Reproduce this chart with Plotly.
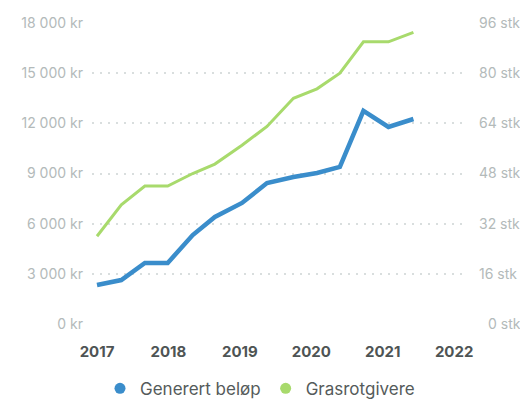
import plotly.graph_objects as go

# x positions (decimal years)
periods = [2017.00, 2017.34, 2017.67, 2017.99, 2018.34, 2018.65, 2019.03,
           2019.38, 2019.75, 2020.08, 2020.40, 2020.73, 2021.08, 2021.43]
generert_belop = [2330, 2630, 3650, 3650, 5320, 6400, 7240,
                  8430, 8790, 9030, 9390, 12740, 11780, 12260]
grasrotgivere = [28, 38, 44, 44, 48, 51, 57, 63, 72, 75, 80, 90, 90, 93]

year_ticks = [2017, 2018, 2019, 2020, 2021, 2022]
kr_ticks = [0, 3000, 6000, 9000, 12000, 15000, 18000]
kr_labels = ["0 kr", "3 000 kr", "6 000 kr", "9 000 kr", "12 000 kr", "15 000 kr", "18 000 kr"]
stk_ticks = [0, 16, 32, 48, 64, 80, 96]
stk_labels = ["\u20070 stk", "16 stk", "32 stk", "48 stk", "64 stk", "80 stk", "96 stk"]

BLUE = "#3A8DCB"
GREEN = "#A8DA6C"
FONT = "Inter"

fig = go.Figure()
fig.add_trace(go.Scatter(x=periods, y=grasrotgivere, yaxis="y2", mode="lines",
                         line=dict(color=GREEN, width=3), showlegend=False))
fig.add_trace(go.Scatter(x=periods, y=generert_belop, mode="lines",
                         line=dict(color=BLUE, width=4.5), showlegend=False))
# legend entries (dots)
fig.add_trace(go.Scatter(x=[None], y=[None], mode="markers", name="Generert beløp",
                         marker=dict(color=BLUE, size=11)))
fig.add_trace(go.Scatter(x=[None], y=[None], mode="markers", name="Grasrotgivere",
                         marker=dict(color=GREEN, size=11)))

fig.update_layout(
    width=520, height=400,
    margin=dict(l=92, r=58, t=23, b=76, autoexpand=False),
    paper_bgcolor="white", plot_bgcolor="white",
    font=dict(family=FONT),
    xaxis=dict(range=[2016.93, 2022.11], tickvals=year_ticks,
               ticktext=[f"<b>{y}</b>" for y in year_ticks],
               showgrid=False, zeroline=False, showline=False, ticks="",
               ticklabelstandoff=17, automargin=False,
               tickfont=dict(size=15, color="#4E5454", family=FONT)),
    yaxis=dict(range=[0, 18000], tickvals=kr_ticks, ticktext=kr_labels,
               showgrid=True, gridcolor="#D9DEDE", gridwidth=1.5, griddash="2px,6px",
               zeroline=False, showline=False, ticks="", ticklabelstandoff=8,
               automargin=False,
               tickfont=dict(size=14, color="#B3BABA", family=FONT)),
    yaxis2=dict(range=[0, 96], tickvals=stk_ticks, ticktext=stk_labels,
                overlaying="y", side="right", showgrid=False, zeroline=False,
                showline=False, ticks="", ticklabelstandoff=16, automargin=False,
                tickfont=dict(size=14, color="#B3BABA", family=FONT)),
    legend=dict(orientation="h", xref="container", x=0.5, xanchor="center",
                yref="container", y=0.028, yanchor="middle",
                font=dict(size=17, color="#555B5B", family=FONT),
                itemwidth=30, bgcolor="rgba(0,0,0,0)"),
)

fig.write_html("out.html")
